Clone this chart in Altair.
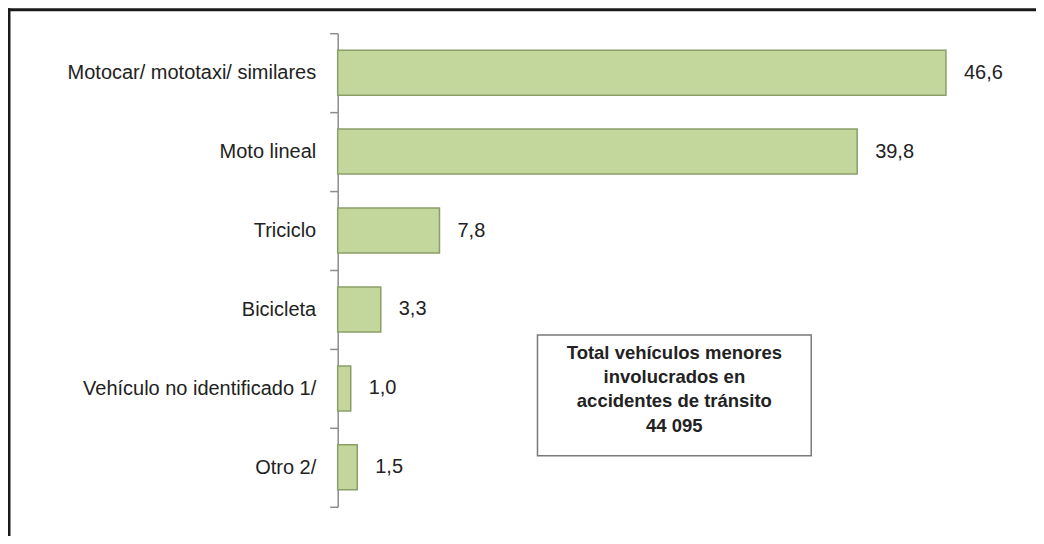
import altair as alt
import pandas as pd

categories = ["Motocar/ mototaxi/ similares", "Moto lineal", "Triciclo", "Bicicleta",
              "Vehículo no identificado 1/", "Otro 2/"]
values = [46.6, 39.8, 7.8, 3.3, 1.0, 1.5]
value_labels = ["46,6", "39,8", "7,8", "3,3", "1,0", "1,5"]
box_text = "Total vehículos menores\ninvolucrados en\naccidentes de tránsito\n44 095"

FONT = "Liberation Sans"

df = pd.DataFrame({"cat": categories, "val": values, "lab": value_labels})

yenc = alt.Y("cat:N", sort=categories, title=None,
             scale=alt.Scale(paddingInner=0, paddingOuter=0),
             axis=alt.Axis(labelFont=FONT, labelFontSize=20, labelColor="#222222",
                           labelPadding=14, tickBand="extent", tickSize=8,
                           tickColor="#8c8c8c", domainColor="#8c8c8c",
                           tickWidth=1.5, domainWidth=1.5, labelLimit=400))
xenc = alt.X("val:Q", title=None, axis=None, scale=alt.Scale(domain=[0, 53.5], nice=False))

base = alt.Chart(df)

bars = base.mark_bar(fill="#c3d69b", stroke="#8a9f67", strokeWidth=1.5,
                     height={"band": 0.57}).encode(x=xenc, y=yenc)

labels = base.mark_text(align="left", baseline="middle", dx=18, font=FONT, fontSize=20,
                        color="#222222").encode(x=xenc, y=yenc, text="lab:N")

one = pd.DataFrame({"t": [box_text]})

box = alt.Chart(one).mark_rect(fill="white", stroke="#7a7a7a", strokeWidth=1.5).encode(
    x=alt.value(200), x2=alt.value(474), y=alt.value(302), y2=alt.value(423))

box_txt = alt.Chart(one).mark_text(align="center", baseline="middle", font=FONT, fontSize=18.5,
                                   fontWeight="bold", color="#222222", lineBreak="\n",
                                   lineHeight=24.3).encode(
    x=alt.value(337), y=alt.value(320), text="t:N")

frame_top = alt.Chart(one).mark_rule(color="#1a1a1a", strokeWidth=3).encode(
    x=alt.value(-330), x2=alt.value(720), y=alt.value(-23.5))
frame_left = alt.Chart(one).mark_rule(color="#1a1a1a", strokeWidth=3).encode(
    x=alt.value(-329), y=alt.value(-25), y2=alt.value(520))

chart = alt.layer(bars, labels, box, box_txt, frame_top, frame_left).properties(
    width=699, height=474,
    background="white",
    padding={"left": 330, "top": 25, "right": 0, "bottom": 29},
    autosize=alt.AutoSizeParams(type="none"),
).configure_view(strokeWidth=0, stroke="transparent")

chart.save("out.html", embed_options={"renderer": "svg", "actions": False})
